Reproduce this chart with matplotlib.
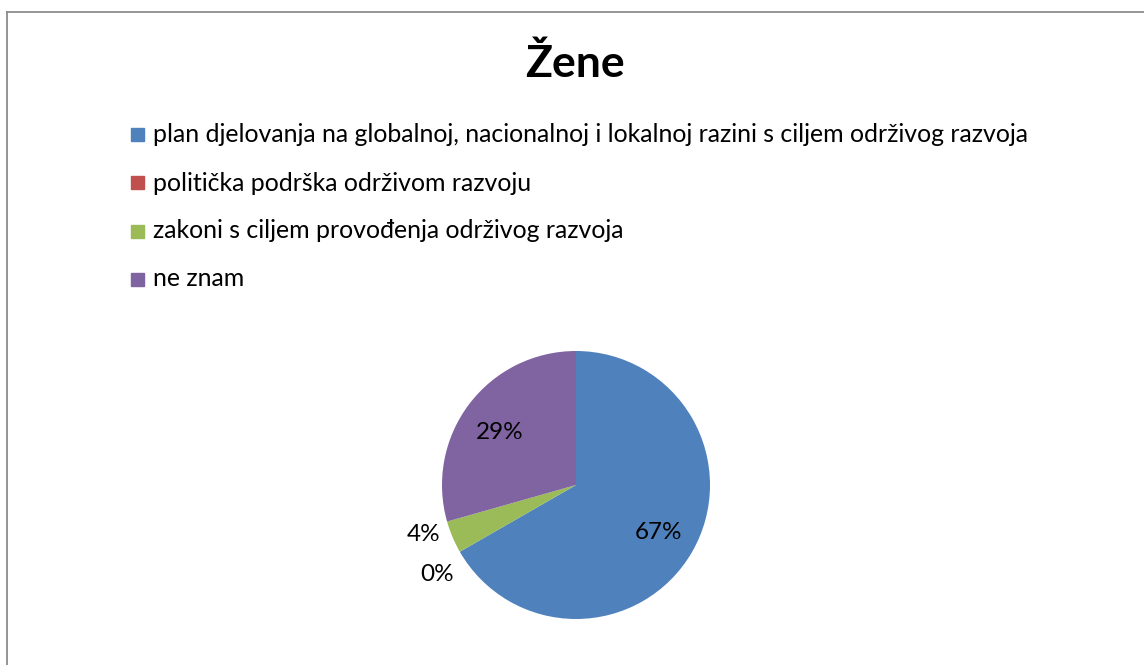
import matplotlib.pyplot as plt
import numpy as np
from matplotlib.lines import Line2D

plt.rcParams["font.family"] = ["Lato", "DejaVu Sans"]

title = "Žene"
categories = [
    "plan djelovanja na globalnoj, nacionalnoj i lokalnoj razini s ciljem održivog razvoja",
    "politička podrška održivom razvoju",
    "zakoni s ciljem provođenja održivog razvoja",
    "ne znam",
]
shares = [66.7, 0.0, 3.9, 29.4]
pct_labels = ["67%", "0%", "4%", "29%"]
colors = ["#4f81bd", "#c0504d", "#9bbb59", "#8064a2"]

W, H = 1144, 665
fig = plt.figure(figsize=(W / 100, H / 100), dpi=100)

# chart frame (only left and top edges visible in the crop)
fig.add_artist(Line2D([6.5 / W, 6.5 / W], [0, 1 - 11.5 / H], color="#8c8c8c", lw=1.3))
fig.add_artist(Line2D([6.5 / W, 1], [1 - 11.5 / H, 1 - 11.5 / H], color="#8c8c8c", lw=1.3))

fig.text(575 / W, 1 - 64 / H, title, ha="center", va="center",
         fontsize=32, fontweight="bold")

# pie
cx, cy, r = 576, 485, 134
ax = fig.add_axes([(cx - r) / W, (H - cy - r) / H, 2 * r / W, 2 * r / H])
wedges, _ = ax.pie(shares, colors=colors, startangle=90, counterclock=False,
                   radius=1, wedgeprops=dict(linewidth=0))
ax.set_xlim(-1, 1)
ax.set_ylim(-1, 1)
ax.set_aspect("equal")
ax.axis("off")

dist = [0.71, 1.22, 1.2, 0.71]
nudge = [(0, 0), (0.02, -0.06), (-0.03, 0.1), (0, -0.04)]
for w, lab, d, (nx, ny) in zip(wedges, pct_labels, dist, nudge):
    ang = np.deg2rad((w.theta1 + w.theta2) / 2)
    ax.text(d * np.cos(ang) + nx, d * np.sin(ang) + ny, lab, ha="center", va="center",
            fontsize=17.5)

# legend
rows_y = [134, 183, 231, 279]
for lab, col, y in zip(categories, colors, rows_y):
    fig.patches.append(plt.Rectangle((131 / W, 1 - (y + 6.5) / H), 13 / W, 13 / H,
                                     transform=fig.transFigure, color=col))
    fig.text(153 / W, 1 - y / H, lab, ha="left", va="center", fontsize=17.9)

fig.savefig("out.png", dpi=100)
